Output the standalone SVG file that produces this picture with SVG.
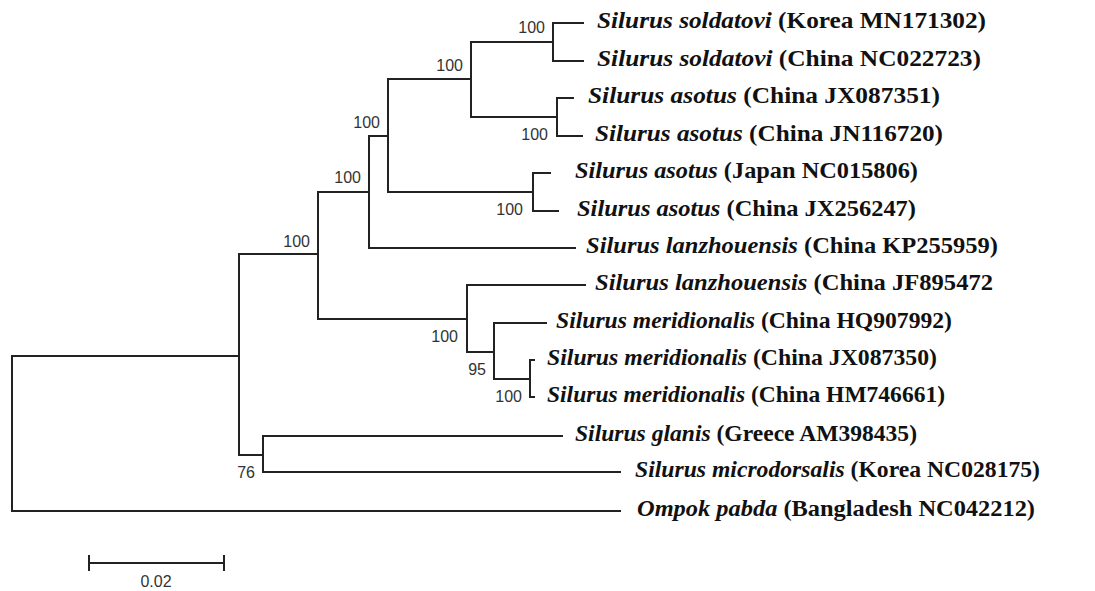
<svg xmlns="http://www.w3.org/2000/svg" width="1095" height="591" viewBox="0 0 1095 591">
<style>
.br{fill:none;stroke:#222;stroke-width:2;stroke-linecap:square}
.bs{font-family:"Liberation Sans",Arial,sans-serif;font-size:16px;fill:#333;text-anchor:end}
.tx{font-family:"Liberation Serif","Times New Roman",serif;font-size:23px;font-weight:bold;fill:#111}
.sp{font-style:italic}
</style>
<rect width="1095" height="591" fill="#fff"/>
<g id="connectors">
<path class="br" d="M12,356V511M12,356H239M12,511H620"/>
<path class="br" d="M239,254V455M239,254H318M239,455H263"/>
<path class="br" d="M263,436V472M263,436H562M263,472H620"/>
<path class="br" d="M318,192V319M318,192H369M318,319H467"/>
<path class="br" d="M369,136V248M369,136H388M369,248H575"/>
<path class="br" d="M388,79V192M388,79H471M388,192H533"/>
<path class="br" d="M471,42V117M471,42H553M471,117H557"/>
<path class="br" d="M553,23V61M553,23H583M553,61H583"/>
<path class="br" d="M557,98V136M557,98H573M557,136H582"/>
<path class="br" d="M533,173V211M533,173H550M533,211H558"/>
<path class="br" d="M467,285V352M467,285H585M467,352H494"/>
<path class="br" d="M494,323V379M494,323H546M494,379H530"/>
<path class="br" d="M530,360V397M530,360H534M530,397H534"/>
</g>
<g id="n-glanis-micro"><text class="bs" x="255" y="478">76</text></g>
<g id="n-b"><text class="bs" x="310" y="247">100</text></g>
<g id="n-c"><text class="bs" x="361" y="183">100</text></g>
<g id="n-d"><text class="bs" x="380" y="128">100</text></g>
<g id="n-e"><text class="bs" x="463" y="71">100</text></g>
<g id="n-soldatovi"><text class="bs" x="545" y="33">100</text></g>
<g id="n-asotus1"><text class="bs" x="548" y="140">100</text></g>
<g id="n-asotus2"><text class="bs" x="523" y="215">100</text></g>
<g id="n-f"><text class="bs" x="458" y="342">100</text></g>
<g id="n-g"><text class="bs" x="486" y="375">95</text></g>
<g id="n-meridionalis"><text class="bs" x="522" y="402">100</text></g>
<g id="t1"><text class="tx" x="597" y="28" textLength="389" lengthAdjust="spacingAndGlyphs"><tspan class="sp">Silurus soldatovi</tspan> (Korea MN171302)</text></g>
<g id="t2"><text class="tx" x="597" y="66" textLength="384" lengthAdjust="spacingAndGlyphs"><tspan class="sp">Silurus soldatovi</tspan> (China NC022723)</text></g>
<g id="t3"><text class="tx" x="588" y="103" textLength="352" lengthAdjust="spacingAndGlyphs"><tspan class="sp">Silurus asotus</tspan> (China JX087351)</text></g>
<g id="t4"><text class="tx" x="595" y="141" textLength="348" lengthAdjust="spacingAndGlyphs"><tspan class="sp">Silurus asotus</tspan> (China JN116720)</text></g>
<g id="t5"><text class="tx" x="575" y="178" textLength="343" lengthAdjust="spacingAndGlyphs"><tspan class="sp">Silurus asotus</tspan> (Japan NC015806)</text></g>
<g id="t6"><text class="tx" x="577" y="216" textLength="339" lengthAdjust="spacingAndGlyphs"><tspan class="sp">Silurus asotus</tspan> (China JX256247)</text></g>
<g id="t7"><text class="tx" x="586" y="253" textLength="412" lengthAdjust="spacingAndGlyphs"><tspan class="sp">Silurus lanzhouensis</tspan> (China KP255959)</text></g>
<g id="t8"><text class="tx" x="595" y="290" textLength="398" lengthAdjust="spacingAndGlyphs"><tspan class="sp">Silurus lanzhouensis</tspan> (China JF895472</text></g>
<g id="t9"><text class="tx" x="556" y="328" textLength="396" lengthAdjust="spacingAndGlyphs"><tspan class="sp">Silurus meridionalis</tspan> (China HQ907992)</text></g>
<g id="t10"><text class="tx" x="547" y="365" textLength="390" lengthAdjust="spacingAndGlyphs"><tspan class="sp">Silurus meridionalis</tspan> (China JX087350)</text></g>
<g id="t11"><text class="tx" x="547" y="402" textLength="398" lengthAdjust="spacingAndGlyphs"><tspan class="sp">Silurus meridionalis</tspan> (China HM746661)</text></g>
<g id="t12"><text class="tx" x="575" y="441" textLength="342" lengthAdjust="spacingAndGlyphs"><tspan class="sp">Silurus glanis</tspan> (Greece AM398435)</text></g>
<g id="t13"><text class="tx" x="635" y="477" textLength="405" lengthAdjust="spacingAndGlyphs"><tspan class="sp">Silurus microdorsalis</tspan> (Korea NC028175)</text></g>
<g id="t14"><text class="tx" x="637" y="516" textLength="398" lengthAdjust="spacingAndGlyphs"><tspan class="sp">Ompok pabda</tspan> (Bangladesh NC042212)</text></g>
<g id="scale">
<path class="br" d="M89,563H224M89,556V570M224,556V570"/>
<text class="bs" x="156" y="587" style="text-anchor:middle">0.02</text>
</g>
</svg>
